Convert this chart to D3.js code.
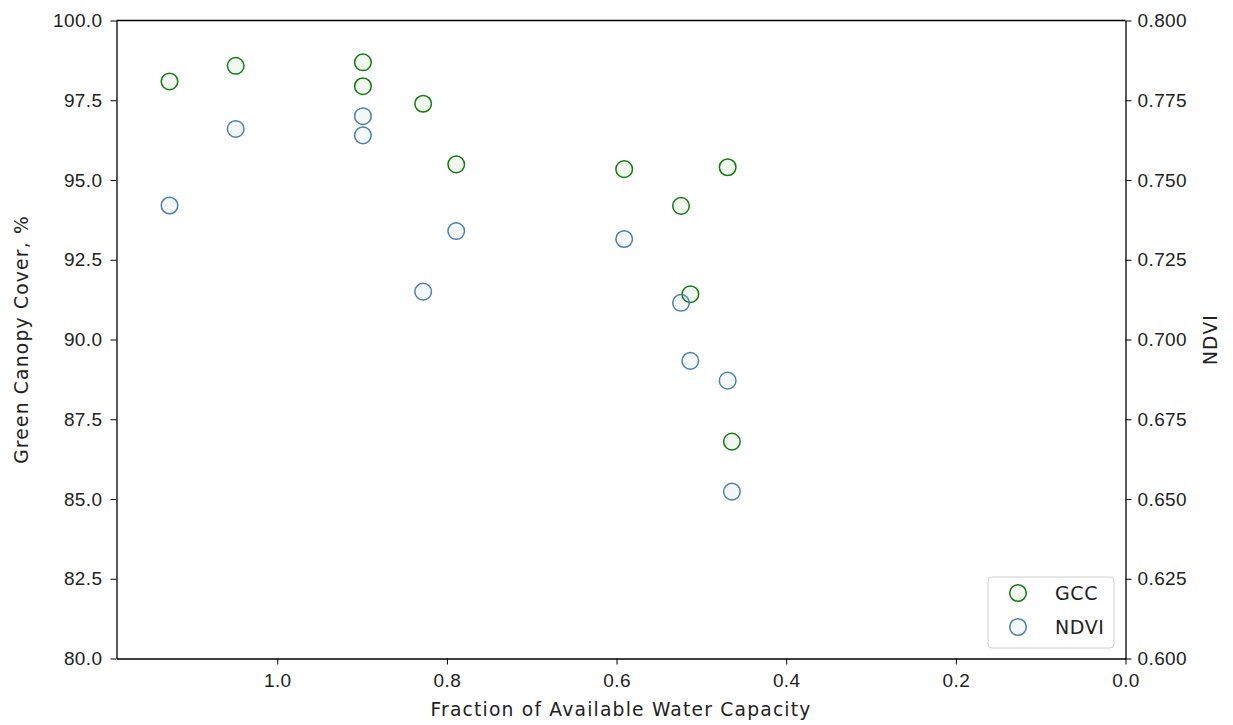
<!DOCTYPE html>
<html>
<head>
<meta charset="utf-8">
<script src="https://cdn.jsdelivr.net/npm/d3@7"></script>
<style>
  body { margin: 0; background: #fff; }
  svg { font-family: "DejaVu Sans", sans-serif; }
  .axis text { font-size: 19px; fill: #222; letter-spacing: 0.4px; }
  .axis path, .axis line { stroke: #000; }
  .label { font-size: 18.7px; fill: #222; letter-spacing: 1.2px; }
</style>
</head>
<body>
<svg id="chart" width="1233" height="725"></svg>
<script>
// fraction of available water capacity (shared x for both series)
var waterFraction = [1.127, 1.049, 0.899, 0.899, 0.828, 0.789, 0.591, 0.524, 0.513, 0.469, 0.464];
// green canopy cover, %
var gcc = [98.09, 98.58, 98.69, 97.94, 97.39, 95.49, 95.34, 94.19, 91.42, 95.40, 86.80];
// NDVI
var ndvi = [0.742, 0.766, 0.770, 0.764, 0.715, 0.734, 0.7315, 0.7115, 0.6933, 0.6871, 0.6523];

var xTicks = [1.0, 0.8, 0.6, 0.4, 0.2, 0.0];
var gccTicks = [80, 82.5, 85, 87.5, 90, 92.5, 95, 97.5, 100];
var ndviTicks = [0.6, 0.625, 0.65, 0.675, 0.7, 0.725, 0.75, 0.775, 0.8];
var seriesNames = ["GCC", "NDVI"];

var margin = { top: 20.5, right: 107.5, bottom: 66.5, left: 116.5 };
var width = 1233 - margin.left - margin.right;
var height = 725 - margin.top - margin.bottom;

var svg = d3.select("#chart");
var g = svg.append("g").attr("transform", "translate(" + margin.left + "," + margin.top + ")");

// x axis runs backwards, from wet to dry
var x = d3.scaleLinear().domain([1.1895, 0]).range([0, width]);
var yL = d3.scaleLinear().domain([80, 100]).range([height, 0]);
var yR = d3.scaleLinear().domain([0.6, 0.8]).range([height, 0]);

var gccColor = "#117a11";
var ndviColor = "#4a7fb0";
var gccFill = "rgba(0,128,0,0.06)";
var ndviFill = "rgba(70,130,180,0.06)";

// points
g.append("g")
  .selectAll("circle")
  .data(waterFraction)
  .join("circle")
  .attr("cx", function (d) { return x(d); })
  .attr("cy", function (d, i) { return yL(gcc[i]); })
  .attr("r", 8.3)
  .attr("fill", gccFill)
  .attr("stroke", gccColor)
  .attr("stroke-width", 1.5);

g.append("g")
  .selectAll("circle")
  .data(waterFraction)
  .join("circle")
  .attr("cx", function (d) { return x(d); })
  .attr("cy", function (d, i) { return yR(ndvi[i]); })
  .attr("r", 8.3)
  .attr("fill", ndviFill)
  .attr("stroke", ndviColor)
  .attr("stroke-width", 1.5);

// axes
g.append("g")
  .attr("class", "axis")
  .attr("transform", "translate(0," + height + ")")
  .call(d3.axisBottom(x).tickValues(xTicks).tickFormat(d3.format(".1f")).tickSize(6).tickPadding(9).tickSizeOuter(0));

g.append("g")
  .attr("class", "axis")
  .call(d3.axisLeft(yL).tickValues(gccTicks).tickFormat(d3.format(".1f")).tickSize(6).tickPadding(8).tickSizeOuter(0));

g.append("g")
  .attr("class", "axis")
  .attr("transform", "translate(" + width + ",0)")
  .call(d3.axisRight(yR).tickValues(ndviTicks).tickFormat(d3.format(".3f")).tickSize(6).tickPadding(6).tickSizeOuter(0));

// top spine
g.append("line")
  .attr("x1", 0).attr("x2", width)
  .attr("y1", 0).attr("y2", 0)
  .attr("stroke", "#000")
  .attr("stroke-width", 1.3);

g.selectAll(".axis path").attr("stroke-width", 1.3);

// axis labels
svg.append("text")
  .attr("class", "label")
  .attr("x", margin.left + width / 2)
  .attr("y", 716)
  .attr("text-anchor", "middle")
  .text("Fraction of Available Water Capacity");

svg.append("text")
  .attr("class", "label")
  .attr("transform", "translate(28," + (margin.top + height / 2) + ") rotate(-90)")
  .attr("text-anchor", "middle")
  .text("Green Canopy Cover, %");

svg.append("text")
  .attr("class", "label")
  .attr("transform", "translate(1217," + (margin.top + height / 2) + ") rotate(-90)")
  .attr("text-anchor", "middle")
  .text("NDVI");

// legend
var legend = svg.append("g").attr("transform", "translate(988,577)");
legend.append("rect")
  .attr("width", 126).attr("height", 71)
  .attr("rx", 4)
  .attr("fill", "rgba(255,255,255,0.8)")
  .attr("stroke", "#d0d0d0");

var legendColors = [gccColor, ndviColor];
var legendFills = [gccFill, ndviFill];
var item = legend.selectAll(".item")
  .data(seriesNames)
  .join("g")
  .attr("transform", function (d, i) { return "translate(0," + (16 + i * 34) + ")"; });

item.append("circle")
  .attr("cx", 30).attr("cy", 0).attr("r", 8.3)
  .attr("fill", function (d, i) { return legendFills[i]; })
  .attr("stroke", function (d, i) { return legendColors[i]; })
  .attr("stroke-width", 1.5);

item.append("text")
  .attr("x", 67).attr("y", 0)
  .attr("dy", "0.35em")
  .attr("font-size", 19)
  .attr("fill", "#222")
  .style("letter-spacing", "0.6px")
  .text(function (d) { return d; });
</script>
</body>
</html>
